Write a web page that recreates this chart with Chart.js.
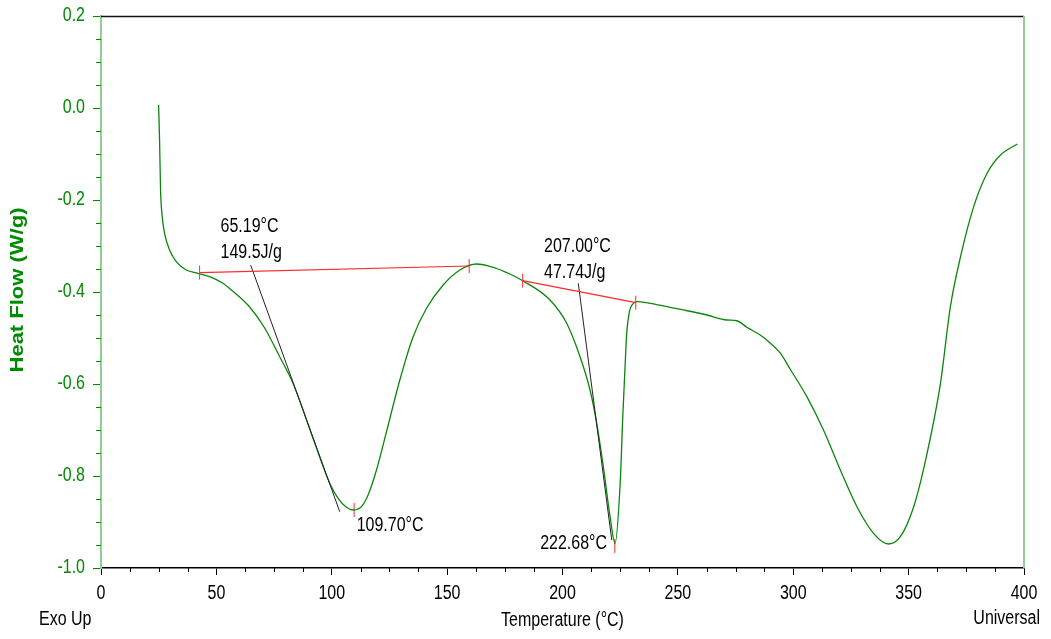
<!DOCTYPE html>
<html><head><meta charset="utf-8">
<script src="https://cdn.jsdelivr.net/npm/chart.js@4.4.1/dist/chart.umd.min.js"></script>
<style>html,body{margin:0;padding:0;background:#fff}#wrap{width:1051px;height:639px;position:relative}</style>
</head><body><div id="wrap"><canvas id="c"></canvas></div>
<script>
// ---- data ----
const temperature = [24.95,25.38,25.81,26.54,27.55,29.72,32.62,36.96,42.0,47.07,52.84,56.49,64.43,70.93,77.44,83.21,91.89,99.13,102.73,106.38,109.24,112.88,115.75,119.39,123.73,129.5,135.27,141.08,148.29,155.53,162.78,169.98,177.22,182.73,194.58,201.82,207.59,211.93,214.83,217.7,220.61,222.78,225.0,226.12,227.11,227.83,228.98,230.45,232.19,237.96,245.21,252.41,262.56,271.24,275.57,279.91,285.68,288.6,294.4,298.7,305.9,313.1,320.4,327.6,334.8,341.3,346.4,352.2,358.0,363.8,368.1,372.5,378.2,384.0,389.8,397.1];
const heatFlow = [0.0065,-0.0696,-0.1783,-0.2362,-0.2724,-0.3087,-0.3341,-0.3522,-0.3594,-0.3667,-0.3811,-0.3957,-0.4326,-0.4783,-0.5407,-0.5985,-0.718,-0.8159,-0.8485,-0.868,-0.8739,-0.8667,-0.8413,-0.787,-0.7037,-0.5913,-0.4972,-0.4354,-0.3848,-0.3522,-0.3391,-0.3463,-0.3609,-0.3754,-0.4174,-0.4681,-0.5407,-0.613,-0.6854,-0.7798,-0.8885,-0.9464,-0.8159,-0.671,-0.5623,-0.4898,-0.4428,-0.4261,-0.4211,-0.4246,-0.4319,-0.4391,-0.45,-0.4609,-0.4625,-0.4767,-0.4935,-0.5050,-0.5330,-0.5680,-0.6275,-0.7,-0.787,-0.8667,-0.9246,-0.9478,-0.9319,-0.8667,-0.7507,-0.5985,-0.4319,-0.3232,-0.2145,-0.142,-0.1022,-0.0783];

const baseline1X = [42.73, 159.57];
const baseline1Y = [-0.358, -0.3435];
const baseline2X = [182.73, 231.75];
const baseline2Y = [-0.3754, -0.4232];
const tangent1X = [64.86, 103.47];
const tangent1Y = [-0.3413, -0.8776];
const tangent2X = [206.85, 221.35];
const tangent2Y = [-0.3811, -0.9391];
const peakMarkX = [109.70, 222.68];
const peakMarkY = [-0.874, -0.952];

const labelTexts = ['65.19°C', '149.5J/g', '207.00°C', '47.74J/g', '109.70°C', '222.68°C'];
const labelX = [51.8, 51.8, 192.0, 192.0, 110.8, 219.3];
const labelY = [-0.2587, -0.3152, -0.302, -0.3587, -0.9087, -0.9467];
const labelAlign = ['left', 'left', 'left', 'left', 'left', 'right'];

const xTickStep = 50, yTickStep = 0.2;
const xMin = 0, xMax = 400, yMin = -1.0, yMax = 0.2;

const toPts = (xs, ys) => xs.map((v, i) => ({x: v, y: ys[i]}));

const FONT = '"Liberation Sans", Arial, sans-serif';
const FSIZE = 19.5;
const SQUEEZE = 0.82;
const GREEN = '#008a00';
const LIGHTGREEN = '#92cf92';

// narrow-looking text: tall glyphs, condensed horizontally
function narrowText(ctx, text, x, y, align) {
  ctx.save();
  ctx.translate(x, y);
  ctx.scale(SQUEEZE, 1);
  ctx.textAlign = align;
  ctx.textBaseline = 'middle';
  ctx.fillText(text, 0, 0);
  ctx.restore();
}

// make the library's own tick labels / titles use the same condensed look
function withNarrowFill(ctx, fn) {
  const of = ctx.fillText;
  ctx.fillText = function (t, x, y, mw) {
    this.save();
    this.translate(x, y);
    this.scale(SQUEEZE, 1);
    if (mw === undefined) of.call(this, t, 0, 0); else of.call(this, t, 0, 0, mw / SQUEEZE);
    this.restore();
  };
  try { fn(); } finally { ctx.fillText = of; }
}
const narrowScales = {
  id: 'narrowScales',
  beforeDraw(chart) {
    Object.values(chart.scales).forEach(s => {
      if (s._narrowWrapped) return;
      const dl = s.drawLabels, dt = s.drawTitle;
      s.drawLabels = function (area) { withNarrowFill(this.ctx, () => dl.call(this, area)); };
      s.drawTitle = function () { withNarrowFill(this.ctx, () => dt.call(this)); };
      s._narrowWrapped = true;
    });
  }
};

const extras = {
  id: 'extras',
  afterDraw(chart) {
    const {ctx, chartArea: a, scales: {x, y}} = chart;
    ctx.save();
    // frame
    ctx.lineWidth = 1.5;
    ctx.strokeStyle = '#111';
    ctx.beginPath(); ctx.moveTo(a.left, a.top + 0.5); ctx.lineTo(a.right, a.top + 0.5); ctx.stroke();
    ctx.strokeStyle = LIGHTGREEN;
    ctx.lineWidth = 2;
    ctx.beginPath(); ctx.moveTo(a.right, a.top); ctx.lineTo(a.right, a.bottom); ctx.stroke();
    // minor ticks x
    ctx.lineWidth = 1;
    ctx.strokeStyle = '#000';
    for (let i = 0; i <= 32; i++) {
      if (i % 4 === 0) continue;
      const px = Math.round(x.getPixelForValue(i * 12.5)) + 0.5;
      ctx.beginPath(); ctx.moveTo(px, a.bottom); ctx.lineTo(px, a.bottom + 4); ctx.stroke();
    }
    // minor ticks y
    ctx.strokeStyle = GREEN;
    for (let i = 0; i <= 24; i++) {
      if (i % 4 === 0) continue;
      const py = Math.round(y.getPixelForValue(yMin + i * 0.05)) + 0.5;
      ctx.beginPath(); ctx.moveTo(a.left - 5, py); ctx.lineTo(a.left, py); ctx.stroke();
    }
    // annotation labels
    ctx.font = FSIZE + 'px ' + FONT;
    ctx.fillStyle = '#000';
    labelTexts.forEach((t, i) => {
      narrowText(ctx, t, x.getPixelForValue(labelX[i]), y.getPixelForValue(labelY[i]), labelAlign[i]);
    });
    // corner texts
    narrowText(ctx, 'Exo Up', 39, 620, 'left');
    narrowText(ctx, 'Universal', 1040, 619, 'right');
    // y axis title
    ctx.save();
    ctx.translate(18, (a.top + a.bottom) / 2 - 2);
    ctx.scale(SQUEEZE, 1);
    ctx.rotate(-Math.PI / 2);
    ctx.font = 'bold 22px ' + FONT;
    ctx.fillStyle = GREEN;
    ctx.textAlign = 'center';
    ctx.textBaseline = 'middle';
    ctx.fillText('Heat Flow (W/g)', 0, 0);
    ctx.restore();
    ctx.restore();
  }
};

new Chart(document.getElementById('c'), {
  type: 'scatter',
  data: {
    datasets: [
      {data: toPts(baseline1X, baseline1Y), showLine: true, borderColor: '#ff2a2a', borderWidth: 1.2,
       pointStyle: 'line', rotation: 90, pointRadius: 7, pointBorderColor: '#ff2a2a', pointBorderWidth: 1},
      {data: toPts(baseline2X, baseline2Y), showLine: true, borderColor: '#ff2a2a', borderWidth: 1.2,
       pointStyle: 'line', rotation: 90, pointRadius: 7, pointBorderColor: '#ff2a2a', pointBorderWidth: 1},
      {data: toPts(tangent1X, tangent1Y), showLine: true, borderColor: '#222', borderWidth: 1, pointRadius: 0},
      {data: toPts(tangent2X, tangent2Y), showLine: true, borderColor: '#222', borderWidth: 1, pointRadius: 0},
      {data: toPts(temperature, heatFlow), showLine: true, borderColor: '#0a870a', borderWidth: 1.3,
       pointRadius: 0, cubicInterpolationMode: 'monotone'},
      {data: toPts(peakMarkX, peakMarkY), showLine: false, pointStyle: 'line', rotation: 90, pointRadius: 7,
       pointBorderColor: '#ff2a2a', pointBorderWidth: 1}
    ]
  },
  options: {
    responsive: true, maintainAspectRatio: false, animation: false,
    layout: {padding: {top: 16, right: 27, left: 0, bottom: 0}},
    plugins: {legend: {display: false}, tooltip: {enabled: false}},
    scales: {
      x: {
        type: 'linear', min: xMin, max: xMax,
        afterFit: s => { s.height = 71; s.paddingLeft = 0; s.paddingRight = 0; },
        border: {display: true, color: '#000', width: 1.5},
        grid: {display: true, drawOnChartArea: false, drawTicks: true, tickLength: 7, color: '#000'},
        ticks: {stepSize: xTickStep, color: '#000', padding: 7, maxRotation: 0, autoSkip: false,
                font: {family: FONT, size: FSIZE}},
        title: {display: true, text: 'Temperature (°C)', color: '#000',
                font: {family: FONT, size: FSIZE, lineHeight: 1}, padding: {top: 0, bottom: 9}}
      },
      y: {
        type: 'linear', min: yMin, max: yMax,
        afterFit: s => { s.width = 101; s.paddingTop = 0; s.paddingBottom = 0; },
        border: {display: true, color: LIGHTGREEN, width: 2},
        grid: {display: true, drawOnChartArea: false, drawTicks: true, tickLength: 8, color: GREEN},
        ticks: {stepSize: yTickStep, color: GREEN, padding: 8, autoSkip: false,
                font: {family: FONT, size: FSIZE},
                callback: v => Math.abs(v) < 1e-9 ? '0.0' : Number(v).toFixed(1)},
        title: {display: false}
      }
    }
  },
  plugins: [narrowScales, extras]
});
</script></body></html>
